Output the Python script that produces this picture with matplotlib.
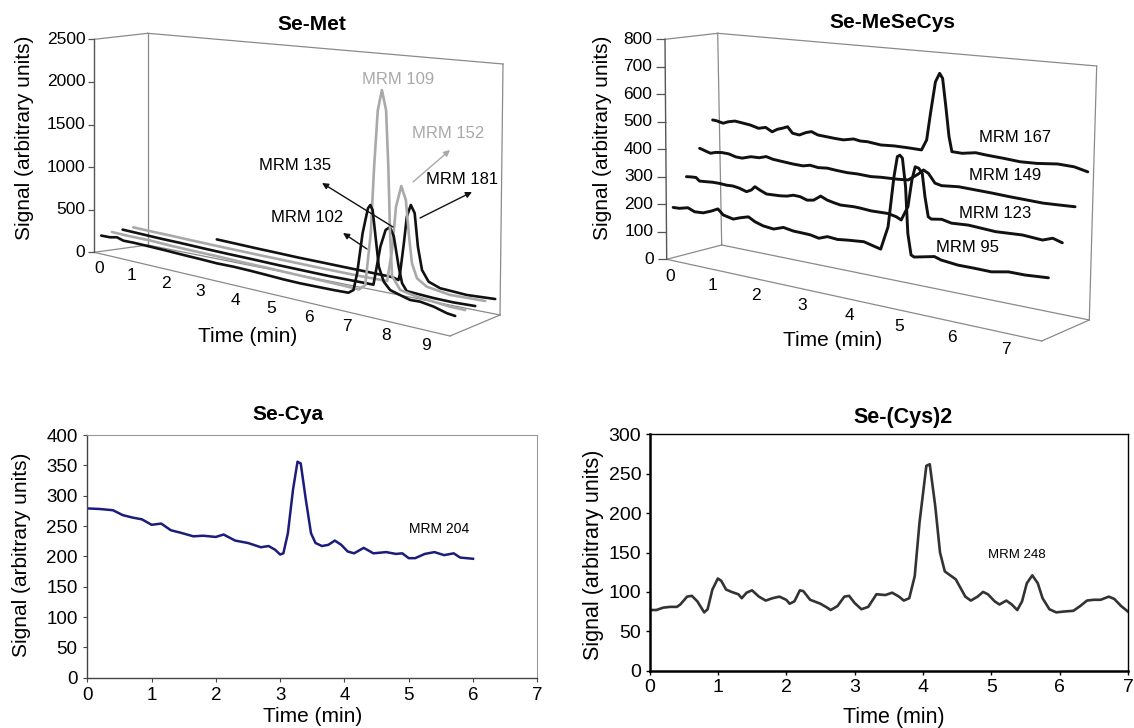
import numpy as np
import matplotlib
matplotlib.use("Agg")
import matplotlib.pyplot as plt
from matplotlib.transforms import Transform, offset_copy

plt.rcParams["font.family"] = ["Liberation Sans", "DejaVu Sans"]

# ---------------- Se-Met (3D), time in min, signal in arbitrary units ----------------
met102_t = [0.05, 0.32, 0.53, 0.73, 1.03, 1.53, 2.03, 2.52, 3.0, 3.48, 3.95, 4.41, 4.87, 5.32, 5.77, 6.22, 6.65,
            7.04, 7.17, 7.26, 7.39, 7.52, 7.58, 7.64, 7.73, 7.81, 7.94, 8.10, 8.35, 8.60, 8.85, 9.18, 9.50, 9.70]
met102_s = [192, 195, 213, 190, 193, 190, 186, 180, 176, 170, 174, 171, 165, 158, 156, 160, 164,
            171, 210, 391, 815, 1082, 1121, 1073, 773, 505, 363, 293, 264, 237, 242, 222, 186, 177]
met109_t = [0.05, 0.6, 1.2, 1.8, 2.5, 3.2, 3.9, 4.6, 5.3, 6.0, 6.6, 7.05, 7.21, 7.34, 7.41, 7.49, 7.59,
            7.70, 7.77, 7.83, 7.89, 8.10, 8.52, 8.93, 9.34, 9.70]
met109_s = [217, 212, 214, 205, 200, 198, 192, 190, 184, 180, 176, 171, 231, 779, 1469, 2058, 2270,
            2069, 1491, 816, 381, 256, 225, 210, 195, 195]
met135_t = [0.05, 0.6, 1.2, 1.8, 2.5, 3.2, 3.9, 4.6, 5.3, 6.0, 6.6, 7.16, 7.33, 7.46, 7.57, 7.67, 7.80,
            7.89, 8.01, 8.68, 9.17, 9.70]
met135_s = [228, 222, 215, 212, 205, 200, 197, 192, 190, 188, 192, 195, 604, 786, 822, 733, 434,
            271, 200, 186, 184, 193]
met152_t = [0.05, 0.6, 1.2, 1.8, 2.5, 3.2, 3.9, 4.6, 5.3, 6.0, 6.6, 7.25, 7.37, 7.46, 7.59, 7.71, 7.80,
            7.88, 8.01, 8.26, 8.84, 9.70]
met152_s = [238, 232, 228, 222, 216, 212, 208, 205, 202, 200, 200, 205, 536, 991, 1213, 1076, 705,
            438, 294, 228, 192, 202]
met181_t = [2.26, 2.8, 3.4, 4.0, 4.6, 5.2, 5.8, 6.4, 7.12, 7.28, 7.32, 7.41, 7.48, 7.58, 7.68, 7.77,
            7.88, 8.05, 8.34, 9.01, 9.70]
met181_s = [243, 236, 228, 222, 215, 212, 208, 205, 200, 182, 256, 573, 854, 982, 903, 564,
            332, 225, 181, 165, 180]

# ---------------- Se-MeSeCys (3D) ----------------
mes95_t = [0, 0.15, 0.35, 0.51, 0.71, 0.90, 1.05, 1.17, 1.40, 1.55, 1.74, 1.89, 2.07, 2.30, 2.51, 2.73,
           2.95, 3.09, 3.27, 3.45, 3.66, 3.86, 4.20, 4.54, 4.68, 4.78, 4.84, 4.89, 4.94, 5.01, 5.07,
           5.14, 5.20, 5.59, 5.72, 6.04, 6.35, 6.66, 6.97, 7.27, 7.68]
mes95_s = [183, 184, 192, 182, 184, 196, 208, 190, 182, 191, 200, 187, 178, 174, 186, 180,
           179, 178, 172, 183, 180, 184, 189, 175, 253, 420, 488, 494, 485, 394, 243,
           175, 170, 184, 177, 171, 171, 170, 180, 180, 185]
mes123_t = [0, 0.11, 0.23, 0.31, 0.47, 0.62, 0.78, 0.94, 1.09, 1.24, 1.40, 1.51, 1.59, 1.70, 1.85, 2.0,
            2.15, 2.30, 2.44, 2.59, 2.74, 2.88, 3.03, 3.17, 3.31, 3.45, 3.59, 3.73, 3.87, 4.08, 4.42,
            4.59, 4.69, 4.82, 4.89, 4.95, 5.02, 5.09, 5.15, 5.22, 5.28, 5.48, 5.67, 5.99, 6.25, 6.50,
            6.74, 6.99, 7.35, 7.53, 7.70]
mes123_s = [285, 287, 288, 277, 279, 281, 281, 279, 280, 276, 268, 277, 291, 282, 272, 273,
            274, 277, 284, 283, 275, 279, 297, 287, 282, 278, 279, 280, 279, 276, 277,
            271, 263, 311, 401, 446, 443, 428, 353, 289, 283, 288, 281, 284, 281, 278,
            280, 282, 277, 288, 279]
mes149_t = [0, 0.05, 0.17, 0.26, 0.38, 0.53, 0.69, 0.85, 1.0, 1.2, 1.39, 1.55, 1.70, 1.92, 2.15, 2.37,
            2.52, 2.70, 2.89, 3.10, 3.32, 3.53, 3.81, 4.02, 4.36, 4.57, 4.77, 4.87, 4.97, 5.10, 5.23,
            5.56, 5.88, 6.20, 6.52, 6.83, 7.13, 7.44, 7.70]
mes149_s = [380, 378, 372, 368, 374, 377, 376, 369, 368, 378, 379, 387, 381, 378, 375, 374,
            380, 376, 379, 376, 374, 375, 373, 376, 378, 381, 406, 422, 413, 384, 379,
            384, 382, 380, 377, 375, 373, 375, 377]
mes167_t = [0, 0.09, 0.25, 0.37, 0.53, 0.69, 0.89, 1.08, 1.24, 1.39, 1.51, 1.62, 1.74, 1.85, 2.0, 2.15,
            2.27, 2.41, 2.60, 2.78, 2.96, 3.18, 3.32, 3.47, 3.75, 4.03, 4.31, 4.58, 4.68, 4.75, 4.84,
            4.92, 4.98, 5.05, 5.12, 5.18, 5.38, 5.64, 5.84, 6.16, 6.48, 6.79, 7.16, 7.46, 7.70]
mes167_s = [477, 476, 470, 478, 484, 481, 477, 469, 476, 463, 475, 481, 489, 468, 465, 477,
            483, 474, 472, 470, 469, 477, 473, 474, 469, 472, 472, 471, 507, 598, 706,
            736, 720, 627, 528, 479, 478, 486, 483, 480, 476, 478, 485, 483, 473]

# ---------------- Se-Cya (MRM 204) ----------------
cya_t = [0, 0.2, 0.4, 0.55, 0.7, 0.85, 1.0, 1.15, 1.3, 1.45, 1.65, 1.8, 2.0, 2.12, 2.3, 2.5, 2.7, 2.82,
         2.92, 3.0, 3.05, 3.12, 3.2, 3.27, 3.32, 3.4, 3.48, 3.55, 3.65, 3.75, 3.85, 3.95, 4.05, 4.15,
         4.3, 4.45, 4.65, 4.8, 4.9, 5.0, 5.1, 5.25, 5.4, 5.55, 5.7, 5.8, 6.0]
cya_s = [279, 278, 276, 268, 264, 261, 252, 254, 243, 239, 233, 234, 232, 236, 226, 222, 215, 217,
         211, 203, 205, 238, 310, 356, 353, 293, 238, 222, 217, 219, 226, 219, 208, 205,
         214, 205, 207, 204, 205, 197, 197, 204, 207, 202, 205, 198, 196]

# ---------------- Se-(Cys)2 (MRM 248) ----------------
cys_t = [0, 0.1, 0.2, 0.3, 0.4, 0.45, 0.55, 0.62, 0.7, 0.8, 0.85, 0.92, 1.0, 1.05, 1.12, 1.2, 1.3, 1.35,
         1.42, 1.5, 1.6, 1.7, 1.8, 1.9, 2.0, 2.05, 2.12, 2.2, 2.25, 2.35, 2.5, 2.6, 2.65, 2.75, 2.85, 2.92,
         3.0, 3.1, 3.2, 3.32, 3.45, 3.55, 3.65, 3.72, 3.8, 3.88, 3.95, 4.05, 4.1, 4.18, 4.25, 4.32, 4.4,
         4.48, 4.55, 4.62, 4.7, 4.8, 4.88, 4.95, 5.05, 5.12, 5.22, 5.3, 5.38, 5.45, 5.52, 5.6, 5.68,
         5.75, 5.85, 5.95, 6.05, 6.2, 6.3, 6.4, 6.5, 6.6, 6.72, 6.8, 6.9, 7.0]
cys_s = [77, 77, 80, 81, 81, 84, 94, 95, 88, 74, 78, 103, 117, 114, 103, 100, 97, 92,
         99, 102, 94, 89, 92, 94, 90, 85, 88, 102, 101, 90, 85, 80, 77, 82, 94, 95,
         86, 78, 81, 97, 96, 99, 94, 89, 92, 120, 188, 260, 262, 209, 150, 126, 121,
         116, 105, 94, 89, 94, 100, 97, 88, 84, 89, 84, 77, 88, 111, 121, 111,
         92, 78, 74, 75, 76, 82, 89, 90, 90, 94, 91, 82, 75]

met_yticks = [0, 500, 1000, 1500, 2000, 2500]
mes_yticks = [0, 100, 200, 300, 400, 500, 600, 700, 800]

# pixel corners of the pseudo-3D boxes (F/B = front/back, L/R = start/end of time, 0/S = floor/top)
met_box = {"FL0": (94.3, 252.3), "FLS": (94.3, 39.3), "BL0": (147.7, 245.0), "BLS": (147.7, 33.3),
           "FR0": (450.0, 336.0), "FRS": (453.0, 83.0), "BR0": (500.0, 315.0), "BRS": (503.0, 64.0)}
mes_box = {"FL0": (666.7, 259.3), "FLS": (665.0, 39.3), "BL0": (721.7, 245.0), "BLS": (717.7, 33.3),
           "FR0": (1041.7, 341.0), "FRS": (1050.0, 79.0), "BR0": (1089.3, 320.0), "BRS": (1096.7, 66.0)}

W, H = 1134, 728
GRAY = "#a9a9a9"
BLACK = "#111111"


class BoxProjection(Transform):
    """(time, signal) at a fixed depth -> pixel position inside a perspective box."""
    input_dims = 2
    output_dims = 2

    def __init__(self, corners, t_max, s_max, dep, warp):
        Transform.__init__(self)
        self._corn = corners
        self._tmax = t_max
        self._smax = s_max
        self._dep = dep
        self._warp = warp

    def transform_non_affine(self, values):
        v = np.asarray(values, dtype=float)
        one = v.ndim == 1
        v = v.reshape(-1, 2)
        tau = v[:, 0] / self._tmax
        u = self._warp * tau / (1 + (self._warp - 1) * tau)
        z = v[:, 1] / self._smax
        d = self._dep
        out = np.zeros_like(v)
        for i, wi in ((0, 1 - u), (1, u)):
            for j, wj in ((0, 1 - d), (1, d)):
                for k, wk in ((0, 1 - z), (1, z)):
                    out += (wi * wj * wk)[:, None] * self._corn[i, j, k]
        return out[0] if one else out


def box_array(b):
    c = np.zeros((2, 2, 2, 2))
    c[0, 0, 0], c[0, 0, 1] = b["FL0"], b["FLS"]
    c[0, 1, 0], c[0, 1, 1] = b["BL0"], b["BLS"]
    c[1, 0, 0], c[1, 0, 1] = b["FR0"], b["FRS"]
    c[1, 1, 0], c[1, 1, 1] = b["BR0"], b["BRS"]
    return c


fig = plt.figure(figsize=(W / 100, H / 100), dpi=100)
canvas = fig.add_axes([0, 0, 1, 1])
canvas.set_xlim(0, W)
canvas.set_ylim(H, 0)
canvas.axis("off")


def draw_3d(box, t_max, s_max, n_depth, warp, traces, s_ticks, t_ticks, tick_len, ylab_dx, tlab_off):
    c = box_array(box)
    edges = [("FLS", "BLS"), ("BLS", "BRS"), ("BRS", "BR0"), ("BL0", "BLS"),
             ("FL0", "BL0"), ("FL0", "FR0"), ("FR0", "BR0"), ("BL0", "BR0")]
    for a, b in edges:
        canvas.plot([box[a][0], box[b][0]], [box[a][1], box[b][1]], color="#8a8a8a", lw=0.9)
    canvas.plot([box["FL0"][0], box["FLS"][0]], [box["FL0"][1], box["FLS"][1]], color="#555555", lw=1.0)

    front = BoxProjection(c, t_max, s_max, 0.0, warp) + canvas.transData
    canvas.plot(np.zeros(len(s_ticks)), s_ticks, ls="none", marker=0, ms=tick_len * 0.72,
                mew=0.9, color="#555555", transform=front)
    ylab_tr = offset_copy(front, fig=fig, x=ylab_dx, y=0, units="dots")
    for s in s_ticks:
        canvas.text(0, s, str(s), transform=ylab_tr, ha="right", va="center", fontsize=12.5)
    tlab_tr = offset_copy(front, fig=fig, x=tlab_off[0], y=tlab_off[1], units="dots")
    for t in t_ticks:
        canvas.text(t, 0, str(t), transform=tlab_tr, ha="center", va="center", fontsize=12.5)

    for t, s, d, col, lw in traces:
        tr = BoxProjection(c, t_max, s_max, d / n_depth, warp) + canvas.transData
        canvas.plot(t, s, color=col, lw=lw, transform=tr, solid_joinstyle="round", solid_capstyle="round")


# ---- Se-Met ----
draw_3d(met_box, 9.7, 2500, 5, 0.88,
        [(met181_t, met181_s, 4.5, BLACK, 1.9), (met152_t, met152_s, 3.5, GRAY, 1.9),
         (met135_t, met135_s, 2.5, BLACK, 1.9), (met109_t, met109_s, 1.5, GRAY, 1.9),
         (met102_t, met102_s, 0.5, BLACK, 1.9)],
        met_yticks, list(range(10)), 6, -9, (5, -16))
canvas.text(312, 24, "Se-Met", ha="center", va="center", fontsize=15, fontweight="bold")
canvas.text(25, 138, "Signal (arbitrary units)", ha="center", va="center", rotation=90, fontsize=15)
canvas.text(248, 337, "Time (min)", ha="center", va="center", fontsize=15)
canvas.text(398, 80, "MRM 109", ha="center", va="center", fontsize=12, color=GRAY)
canvas.text(448, 133, "MRM 152", ha="center", va="center", fontsize=12, color=GRAY)
canvas.text(295, 165, "MRM 135", ha="center", va="center", fontsize=12)
canvas.text(462, 180, "MRM 181", ha="center", va="center", fontsize=12)
canvas.text(307, 218, "MRM 102", ha="center", va="center", fontsize=12)
arrows = [((413, 182), (450, 150), GRAY), ((393, 227), (322, 183), BLACK),
          ((420, 218), (472, 192), BLACK), ((367, 249), (343, 233), BLACK)]
for tail, head, col in arrows:
    canvas.annotate("", xy=head, xytext=tail,
                    arrowprops=dict(arrowstyle="-|>", color=col, lw=1.0, mutation_scale=9,
                                    shrinkA=0, shrinkB=0))

# ---- Se-MeSeCys ----
draw_3d(mes_box, 7.7, 800, 4, 0.856,
        [(mes167_t, mes167_s, 3.5, BLACK, 2.1), (mes149_t, mes149_s, 2.5, BLACK, 2.1),
         (mes123_t, mes123_s, 1.5, BLACK, 2.1), (mes95_t, mes95_s, 0.5, BLACK, 2.1)],
        mes_yticks, list(range(8)), 9, -13, (3, -17))
canvas.text(892, 23, "Se-MeSeCys", ha="center", va="center", fontsize=15, fontweight="bold")
canvas.text(602, 138, "Signal (arbitrary units)", ha="center", va="center", rotation=90, fontsize=15)
canvas.text(833, 341, "Time (min)", ha="center", va="center", fontsize=15)
canvas.text(1015, 138, "MRM 167", ha="center", va="center", fontsize=12)
canvas.text(1005, 176, "MRM 149", ha="center", va="center", fontsize=12)
canvas.text(995, 214, "MRM 123", ha="center", va="center", fontsize=12)
canvas.text(968, 247, "MRM 95", ha="center", va="center", fontsize=12)

# ---- Se-Cya ----
ax1 = fig.add_axes([87.3 / W, 1 - 677.7 / H, 450 / W, 242.7 / H])
ax1.set_facecolor("none")
ax1.plot(cya_t, cya_s, color="#1c1c7a", lw=1.8)
ax1.set_xlim(0, 7)
ax1.set_ylim(0, 400)
ax1.set_xticks(range(8))
ax1.set_yticks(range(0, 401, 50))
ax1.tick_params(labelsize=13.5, length=3, width=0.8, color="#444444", pad=4)
for side in ("left", "bottom"):
    ax1.spines[side].set_color("#444444")
    ax1.spines[side].set_linewidth(1.0)
for side in ("top", "right"):
    ax1.spines[side].set_color("#9a9a9a")
    ax1.spines[side].set_linewidth(0.8)
ax1.text(5.48, 245, "MRM 204", ha="center", va="center", fontsize=10)
fig.text(287.5 / W, 1 - 415 / H, "Se-Cya", ha="center", va="center", fontsize=15, fontweight="bold")
fig.text(22 / W, 1 - 555 / H, "Signal (arbitrary units)", ha="center", va="center", rotation=90, fontsize=15)
fig.text(313 / W, 1 - 717 / H, "Time (min)", ha="center", va="center", fontsize=15)

# ---- Se-(Cys)2 ----
ax2 = fig.add_axes([649.5 / W, 1 - 670.7 / H, 478.5 / W, 236.4 / H])
ax2.set_facecolor("none")
ax2.plot(cys_t, cys_s, color="#333333", lw=1.9)
ax2.set_xlim(0, 7)
ax2.set_ylim(0, 300)
ax2.set_xticks(range(8))
ax2.set_yticks(range(0, 301, 50))
ax2.tick_params(labelsize=14, length=3, width=1.0, pad=3)
for side in ("left", "bottom"):
    ax2.spines[side].set_linewidth(1.8)
for side in ("top", "right"):
    ax2.spines[side].set_linewidth(1.0)
ax2.text(5.37, 147, "MRM 248", ha="center", va="center", fontsize=9.5)
fig.text(903 / W, 1 - 418 / H, "Se-(Cys)2", ha="center", va="center", fontsize=15.5, fontweight="bold")
fig.text(593 / W, 1 - 555 / H, "Signal (arbitrary units)", ha="center", va="center", rotation=90,
         fontsize=15.5)
fig.text(894 / W, 1 - 717 / H, "Time (min)", ha="center", va="center", fontsize=15.5)

fig.savefig("out.png", dpi=100)
